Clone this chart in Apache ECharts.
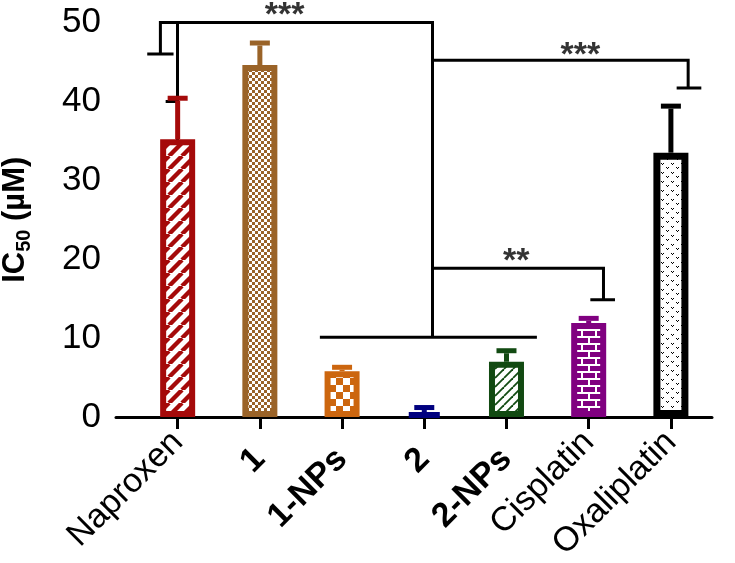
<!DOCTYPE html>
<html>
<head>
<meta charset="utf-8">
<script src="https://cdn.jsdelivr.net/npm/echarts@6/dist/echarts.min.js"></script>
<style>html,body{margin:0;padding:0;background:#fff}#c{width:735px;height:563px}</style>
</head>
<body>
<div id="c"></div>
<script>
// ---- data ----
const categories = ['Naproxen', '1', '1-NPs', '2', '2-NPs', 'Cisplatin', 'Oxaliplatin'];
const boldLabel = [false, true, true, true, true, false, false];
const ic50Mean = [35.2, 44.6, 5.8, 0.5, 7.0, 11.9, 33.5];
const ic50Err = [5.2, 2.8, 0.5, 0.7, 1.4, 0.6, 5.9];
const yTicks = [0, 10, 20, 30, 40, 50];
// significance brackets (data coordinates: x = category index, y = IC50)
const bracketNaproxen = [[-0.37, 46], [-0.05, 46], [-0.21, 46], [-0.21, 50], [3.1, 50], [3.1, 10.1]];
const bracketGroup = [[1.73, 10.1], [4.37, 10.1]];
const bracketOxali = [[3.1, 45.2], [6.21, 45.2], [6.21, 41.7], [6.07, 41.7], [6.37, 41.7]];
const bracketCis = [[3.1, 18.85], [5.18, 18.85], [5.18, 14.85], [5.02, 14.85], [5.32, 14.85]];
const starLabels = ['***', '***', '**'];
const starX = [1.3, 4.9, 4.12];
const starY = [50.9, 45.8, 19.7];

// ---- styles ----
const colors = ['#A50A0A', '#9A6328', '#CC660F', '#00007F', '#124A12', '#800080', '#000000'];
const FONT = 'Liberation Sans, Arial, Helvetica, sans-serif';
const tickIdx = categories.map((c, i) => i);
const plainIdx = tickIdx.filter(i => !boldLabel[i]);
const boldIdx = tickIdx.filter(i => boldLabel[i]);

function tile(w, h, draw) {
  const c = document.createElement('canvas');
  c.width = w; c.height = h;
  const ctx = c.getContext('2d');
  draw(ctx, w, h);
  return c;
}
function stripes(col, size, lw) {
  return tile(size, size, (ctx, w, h) => {
    ctx.fillStyle = '#fff'; ctx.fillRect(0, 0, w, h);
    ctx.strokeStyle = col; ctx.lineWidth = lw;
    for (const k of [-w, 0, w]) { ctx.beginPath(); ctx.moveTo(k, h); ctx.lineTo(k + w, 0); ctx.stroke(); }
  });
}
function checker(col, cell) {
  return tile(cell * 2, cell * 2, (ctx) => {
    ctx.fillStyle = '#fff'; ctx.fillRect(0, 0, cell * 2, cell * 2);
    ctx.fillStyle = col; ctx.fillRect(0, 0, cell, cell); ctx.fillRect(cell, cell, cell, cell);
  });
}
function bricks(col) {
  return tile(14, 14, (ctx) => {
    ctx.fillStyle = col; ctx.fillRect(0, 0, 14, 14);
    ctx.fillStyle = '#fff';
    ctx.fillRect(0, 0, 14, 2); ctx.fillRect(0, 7, 14, 2);
    ctx.fillRect(0, 0, 2, 7); ctx.fillRect(7, 7, 2, 7);
  });
}
function dots(col) {
  return tile(10, 9, (ctx) => {
    ctx.fillStyle = '#fff'; ctx.fillRect(0, 0, 10, 9);
    ctx.fillStyle = col;
    const v = (x, y) => { ctx.fillRect(x, y, 1, 1); ctx.fillRect(x + 2, y, 1, 1); ctx.fillRect(x + 1, y + 1, 1, 1); };
    v(1, 1); v(6, 5);
  });
}
function solid(col) { return tile(4, 4, (ctx) => { ctx.fillStyle = col; ctx.fillRect(0, 0, 4, 4); }); }

const fills = [
  stripes(colors[0], 13, 4.4),
  checker(colors[1], 3),
  checker(colors[2], 7),
  solid(colors[3]),
  stripes(colors[4], 9, 1.8),
  bricks(colors[5]),
  dots(colors[6])
];

const barData = categories.map((c, i) => ({
  value: [i, ic50Mean[i]],
  itemStyle: {
    color: { image: fills[i], repeat: 'repeat' },
    borderColor: colors[i],
    borderWidth: i === 6 ? 7 : 6
  }
}));
const errData = categories.map((c, i) => [i, ic50Mean[i], ic50Err[i]]);

function bracketSeries(pts) {
  return {
    type: 'line', data: pts, symbol: 'none', clip: false, silent: true,
    lineStyle: { color: '#000', width: 3, cap: 'butt', join: 'miter' }, z: 5
  };
}
function labelAxis(idx, bold, margin, showLine) {
  return {
    type: 'value', min: -0.75, max: 6.5, position: 'bottom', offset: 0,
    splitLine: { show: false },
    axisLine: { show: showLine, onZero: false, lineStyle: { color: '#000', width: 3 } },
    axisTick: { show: showLine, customValues: tickIdx, length: 12, lineStyle: { color: '#000', width: 3 } },
    axisLabel: {
      customValues: idx,
      rotate: 45, margin: margin,
      formatter: (v) => categories[Math.round(v)],
      fontFamily: FONT, fontSize: 34, fontWeight: bold ? 'bold' : 'normal', color: '#000'
    }
  };
}

const chart = echarts.init(document.getElementById('c'), null, { renderer: 'canvas' });
chart.setOption({
  animation: false,
  grid: { left: 116, right: 23, top: 22.5, bottom: 146, containLabel: false, outerBoundsMode: 'none' },
  xAxis: [labelAxis(plainIdx, false, 20, true), labelAxis(boldIdx, true, 37, false)],
  yAxis: {
    type: 'value', min: yTicks[0], max: yTicks[yTicks.length - 1], interval: 10,
    splitLine: { show: false },
    axisLine: { show: true, lineStyle: { color: '#000', width: 3 } },
    axisTick: { show: true, length: 12, lineStyle: { color: '#000', width: 3 } },
    axisLabel: { margin: 15, fontFamily: FONT, fontSize: 35, color: '#000' },
    name: '{a|IC}{s|50}{a| (µM)}',
    nameLocation: 'middle', nameGap: 82, nameRotate: 90,
    nameTextStyle: {
      rich: {
        a: { fontFamily: FONT, fontSize: 31, fontWeight: 'bold', color: '#000', lineHeight: 38 },
        s: { fontFamily: FONT, fontSize: 20, fontWeight: 'bold', color: '#000', verticalAlign: 'bottom', lineHeight: 20 }
      }
    }
  },
  series: [
    { type: 'bar', xAxisIndex: 0, data: barData, barWidth: 35, z: 2 },
    {
      type: 'custom', xAxisIndex: 0, data: errData, z: 3, clip: false,
      renderItem: (params, api) => {
        const i = params.dataIndex;
        const x = api.value(0), m = api.value(1), e = api.value(2);
        const p0 = api.coord([x, m]);
        const p1 = api.coord([x, m + e]);
        const st = { stroke: colors[i], lineWidth: 5, lineCap: 'butt' };
        return {
          type: 'group', children: [
            { type: 'line', shape: { x1: p0[0], y1: p0[1], x2: p1[0], y2: p1[1] + 2.5 }, style: st },
            { type: 'line', shape: { x1: p1[0] - 10, y1: p1[1], x2: p1[0] + 10, y2: p1[1] }, style: st }
          ]
        };
      }
    },
    bracketSeries(bracketNaproxen),
    bracketSeries(bracketGroup),
    bracketSeries(bracketOxali),
    bracketSeries(bracketCis),
    {
      type: 'scatter', symbolSize: 1, clip: false, silent: true, z: 6,
      itemStyle: { color: 'rgba(0,0,0,0)' },
      data: starLabels.map((t, i) => ({ value: [starX[i], starY[i]], name: t })),
      label: { show: true, position: 'inside', formatter: (p) => p.name, fontFamily: FONT, fontSize: 34, fontWeight: 'bold', color: '#000' }
    }
  ]
});
</script>
</body>
</html>
